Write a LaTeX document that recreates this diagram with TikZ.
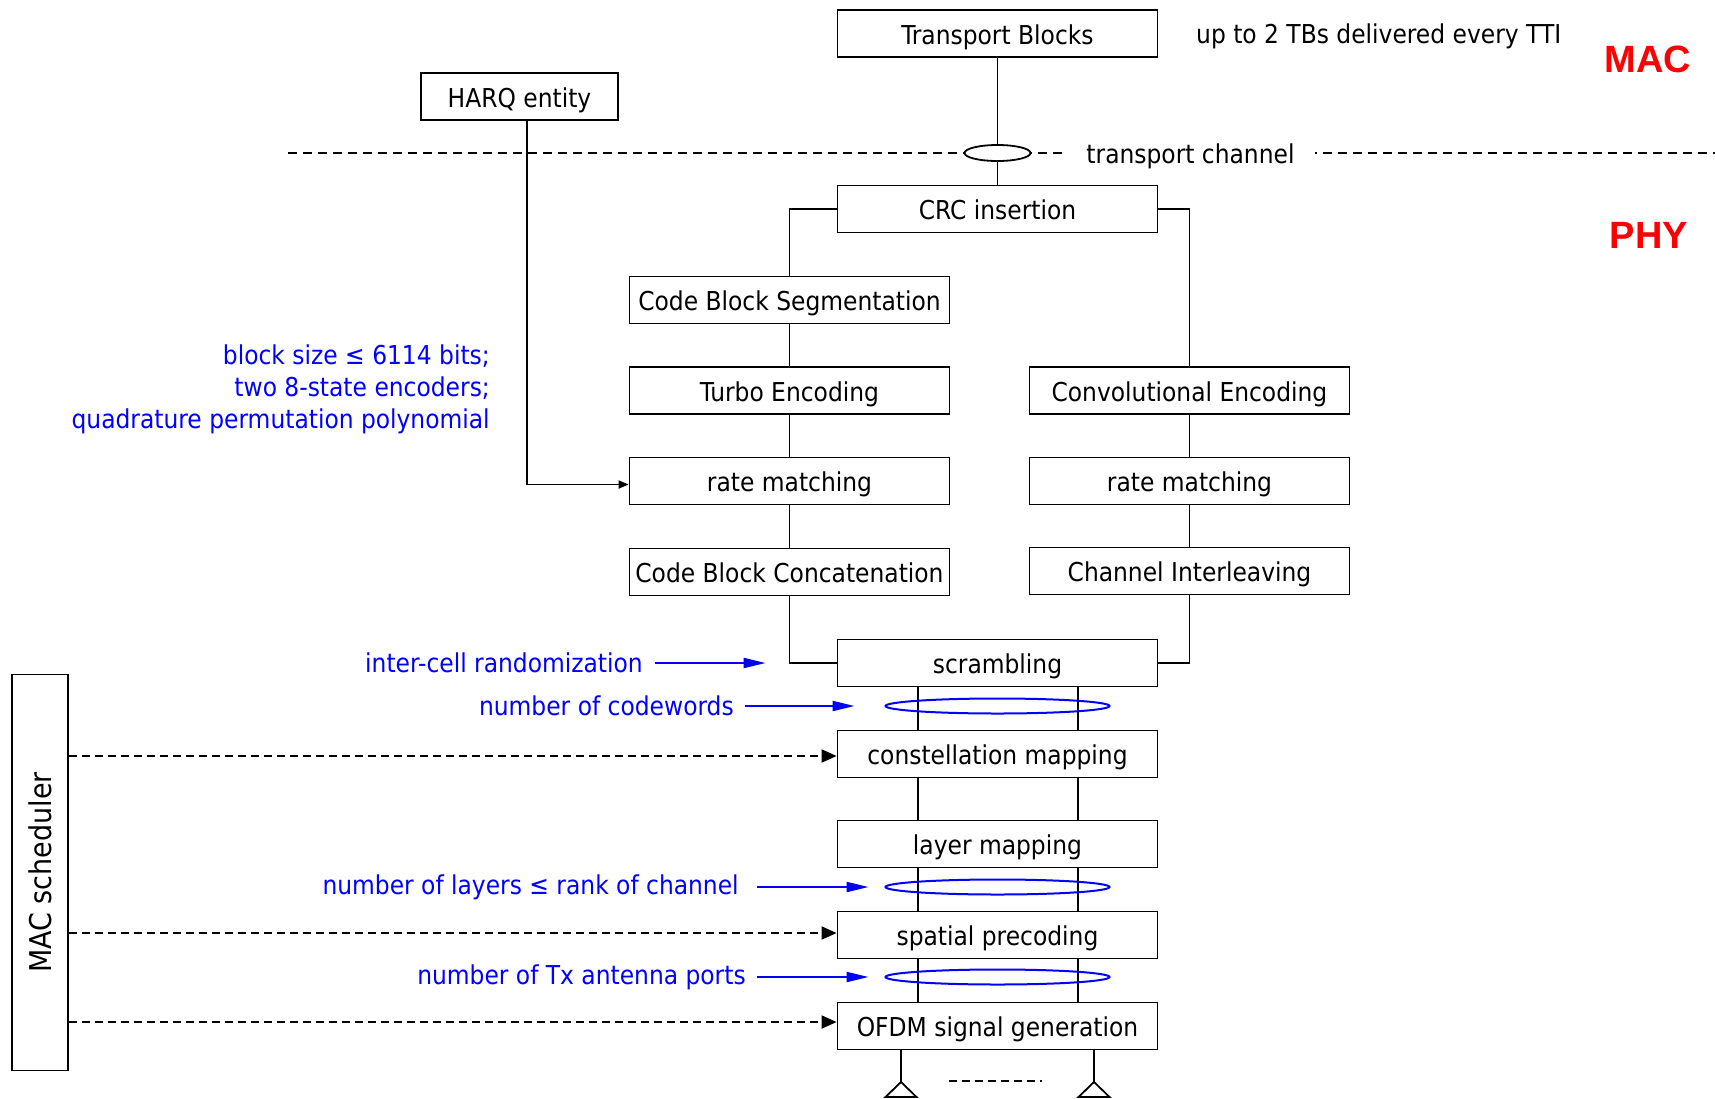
\documentclass[tikz,border=0pt]{standalone}
\usepackage{fontspec}
\setmainfont{DejaVu Sans Condensed}
\newfontfamily\layerfont{Liberation Sans}
\usetikzlibrary{arrows.meta,shapes.geometric,calc}
\definecolor{noteblue}{RGB}{0,0,255}
\definecolor{layerred}{RGB}{255,0,0}

\begin{document}
\begin{tikzpicture}[x=1pt,y=-1pt,
  font=\fontsize{26}{32}\selectfont,
  blk/.style={draw,line width=1.8pt,minimum width=320pt,minimum height=47pt,inner sep=0pt,
              text height=21pt,text depth=0pt},
  wire/.style={line width=1.8pt},
  ctrl/.style={line width=1.8pt,dash pattern=on 8pt off 5pt,-{Triangle[length=15pt,width=13pt]}},
  note/.style={text=noteblue,inner sep=0pt},
  notearrow/.style={draw=noteblue,line width=2pt,-{Triangle[length=22pt,width=10pt]}},
  group/.style={draw=noteblue,line width=2pt,ellipse,minimum width=224pt,minimum height=15pt,inner sep=0pt},
  layer/.style={text=layerred,font=\layerfont\bfseries\fontsize{38}{40}\selectfont,anchor=base,inner sep=0pt}
]
\useasboundingbox (0,0) rectangle (1715,1098);

% MAC / PHY boundary
\draw[line width=1.8pt,dash pattern=on 9pt off 6pt] (288,153) -- (1715,153);
\node[fill=white,inner xsep=20pt,inner ysep=3pt,text height=21pt,text depth=0pt] (tch) at (1190.5,153) {transport channel};

% blocks
\node[blk] (tb)   at (997.5,33.5) {Transport Blocks};
\node[blk,minimum width=197pt] (harq) at (519.5,96.5) {HARQ entity};
\node[blk] (crc)  at (997.5,209) {CRC insertion};
\node[blk] (cbs)  at (789.5,300) {Code Block Segmentation};
\node[blk] (tur)  at (789.5,390.5) {Turbo Encoding};
\node[blk] (rmL)  at (789.5,481) {rate matching};
\node[blk] (cbc)  at (789.5,572) {Code Block Concatenation};
\node[blk] (cnv)  at (1189.5,390.5) {Convolutional Encoding};
\node[blk] (rmR)  at (1189.5,481) {rate matching};
\node[blk] (chi)  at (1189.5,571) {Channel Interleaving};
\node[blk] (scr)  at (997.5,663) {scrambling};
\node[blk] (con)  at (997.5,754) {constellation mapping};
\node[blk] (lay)  at (997.5,844) {layer mapping};
\node[blk] (spa)  at (997.5,935) {spatial precoding};
\node[blk] (ofdm) at (997.5,1026) {OFDM signal generation};

\node[draw,line width=1.8pt,minimum width=56pt,minimum height=396pt,inner sep=0pt] (mac) at (40,872.5) {};
\node[rotate=90,font=\fontsize{30}{32}\selectfont] (macl) at (mac.center) {MAC scheduler};

% transport block path into PHY
\draw[wire] (tb.south) -- (crc.north);
\node[draw,line width=1.8pt,fill=white,ellipse,minimum width=66pt,minimum height=16pt,inner sep=0pt] (tce) at (997.5,153) {};

% turbo-coded branch
\draw[wire] (crc.west) -| (cbs.north);
\draw[wire] (cbs.south) -- (tur.north);
\draw[wire] (tur.south) -- (rmL.north);
\draw[wire] (rmL.south) -- (cbc.north);
\draw[wire] (cbc.south) |- (scr.west);

% convolutional branch
\draw[wire] (crc.east) -| (cnv.north);
\draw[wire] (cnv.south) -- (rmR.north);
\draw[wire] (rmR.south) -- (chi.north);
\draw[wire] (chi.south) |- (scr.east);

% HARQ into rate matching
\coordinate (hx) at (527,0);
\draw[wire,-{Triangle[length=10pt,width=8pt]}] (harq.south -| hx) |- ($(rmL.west)+(0,3.5)$);

% parallel streams down the chain
\coordinate (lx) at (918,0);
\coordinate (rx) at (1078,0);
\foreach \a/\b in {scr/con,con/lay,lay/spa,spa/ofdm}{
  \draw[wire] (\a.south -| lx) -- (\b.north -| lx);
  \draw[wire] (\a.south -| rx) -- (\b.north -| rx);
}

% antennas
\coordinate (a1) at (901,1082);
\coordinate (a2) at (1094,1082);
\draw[wire] (ofdm.south -| a1) -- (a1);
\draw[wire] (ofdm.south -| a2) -- (a2);
\draw[wire,line join=miter] (a1) -- ++(-15.5,15) -- ++(31,0) -- cycle;
\draw[wire,line join=miter] (a2) -- ++(-15.5,15) -- ++(31,0) -- cycle;
\draw[line width=1.8pt,dash pattern=on 8pt off 5pt] (949,1081) -- (1042,1081);

% stream groupings
\node[group] (cw) at (997.5,706) {};
\node[group] (ly) at (997.5,887) {};
\node[group] (ap) at (997.5,977) {};

% scheduler control
\draw[ctrl] ($(mac.east |- con.west)+(0,2)$) -- ($(con.west)+(0,2)$);
\draw[ctrl] ($(mac.east |- spa.west)+(0,-2)$) -- ($(spa.west)+(0,-2)$);
\draw[ctrl] ($(mac.east |- ofdm.west)+(0,-4)$) -- ($(ofdm.west)+(0,-4)$);

% annotations
\node[note,align=right,anchor=east] (tcn) at (490,389)
  {block size ≤ 6114 bits;\\two 8-state encoders;\\quadrature permutation polynomial};
\node[note,anchor=east] (icr) at (643,663) {inter-cell randomization};
\draw[notearrow] ([xshift=12pt]icr.east) -- ([xshift=-71pt]scr.west);
\node[note,anchor=east] (ncw) at (734,706) {number of codewords};
\draw[notearrow] ([xshift=11pt]ncw.east) -- ([xshift=-30pt]cw.west);
\node[note,anchor=east] (nly) at (739,887) {number of layers ≤ rank of channel};
\draw[notearrow] ([xshift=18pt]nly.east) -- ([xshift=-16pt]ly.west);
\node[note,anchor=east] (nap) at (746,977) {number of Tx antenna ports};
\draw[notearrow] ([xshift=11pt]nap.east) -- ([xshift=-16pt]ap.west);

\node[anchor=base west,inner sep=0pt] (tti) at (1196,43) {up to 2 TBs delivered every TTI};
\node[layer] (macn) at (1648,72.5) {MAC};
\node[layer] (phyn) at (1649,248.5) {PHY};
\end{tikzpicture}
\end{document}
